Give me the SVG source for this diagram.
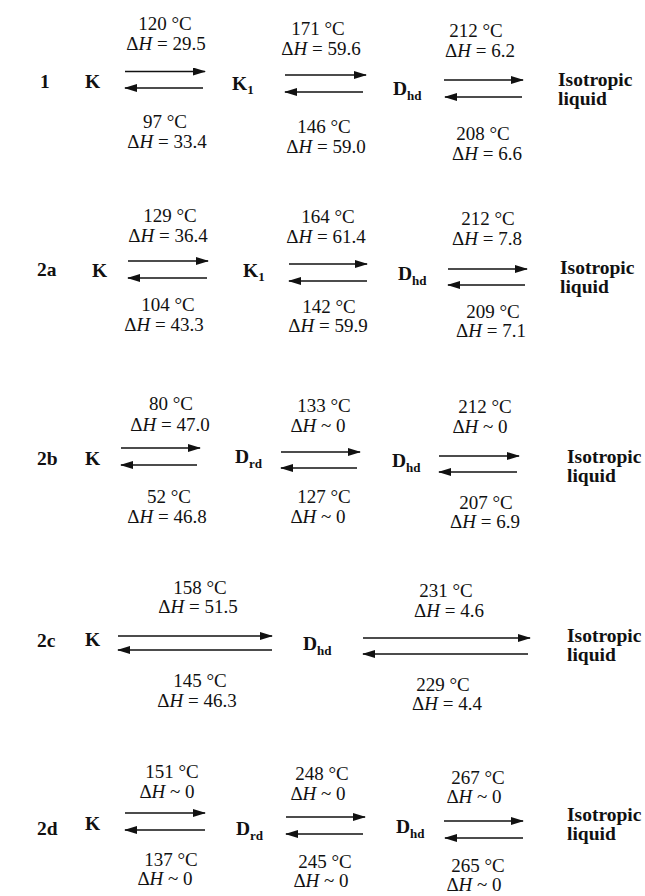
<svg xmlns="http://www.w3.org/2000/svg" width="645" height="896" viewBox="0 0 645 896">
<style>
.n{font-family:"Liberation Serif","Times New Roman",serif;font-weight:bold;font-size:19.5px;fill:#111}
.s{font-size:13px}
.l{font-family:"Liberation Serif","Times New Roman",serif;font-size:19px;fill:#111;text-anchor:middle}
.i{font-style:italic}
.a{stroke:#111;stroke-width:1.6;fill:none;marker-end:url(#ah)}
</style>
<defs>
<marker id="ah" markerUnits="userSpaceOnUse" markerWidth="13" markerHeight="8" refX="12" refY="4" orient="auto">
<path d="M0,0 L13,4 L0,8 Z" fill="#111"/>
</marker>
</defs>
<rect width="645" height="896" fill="#fff"/>

<!-- Row 1 -->
<g id="row1-label"><text class="n" x="40" y="88">1</text></g>
<g id="row1-K"><text class="n" x="85" y="88">K</text></g>
<g id="row1-K1"><text class="n" x="232" y="90">K<tspan class="s" dy="4">1</tspan></text></g>
<g id="row1-Dhd"><text class="n" x="393" y="95">D<tspan class="s" dy="5">hd</tspan></text></g>
<g id="row1-Iso"><text class="n" x="558" y="86">Isotropic</text><text class="n" x="558" y="105">liquid</text></g>

<!-- Row 2a -->
<g id="row2a-label"><text class="n" x="37" y="276">2a</text></g>
<g id="row2a-K"><text class="n" x="92" y="277">K</text></g>
<g id="row2a-K1"><text class="n" x="243" y="277">K<tspan class="s" dy="4">1</tspan></text></g>
<g id="row2a-Dhd"><text class="n" x="398" y="280">D<tspan class="s" dy="5">hd</tspan></text></g>
<g id="row2a-Iso"><text class="n" x="560" y="274">Isotropic</text><text class="n" x="560" y="293">liquid</text></g>

<!-- Row 2b -->
<g id="row2b-label"><text class="n" x="37" y="465">2b</text></g>
<g id="row2b-K"><text class="n" x="85" y="465">K</text></g>
<g id="row2b-Drd"><text class="n" x="235" y="463">D<tspan class="s" dy="5">rd</tspan></text></g>
<g id="row2b-Dhd"><text class="n" x="392" y="467">D<tspan class="s" dy="5">hd</tspan></text></g>
<g id="row2b-Iso"><text class="n" x="567" y="463">Isotropic</text><text class="n" x="567" y="482">liquid</text></g>

<!-- Row 2c -->
<g id="row2c-label"><text class="n" x="37" y="647">2c</text></g>
<g id="row2c-K"><text class="n" x="85" y="646">K</text></g>
<g id="row2c-Dhd"><text class="n" x="303" y="650">D<tspan class="s" dy="5">hd</tspan></text></g>
<g id="row2c-Iso"><text class="n" x="567" y="642">Isotropic</text><text class="n" x="567" y="661">liquid</text></g>

<!-- Row 2d -->
<g id="row2d-label"><text class="n" x="37" y="835">2d</text></g>
<g id="row2d-K"><text class="n" x="85" y="830">K</text></g>
<g id="row2d-Drd"><text class="n" x="236" y="835">D<tspan class="s" dy="5">rd</tspan></text></g>
<g id="row2d-Dhd"><text class="n" x="396" y="833">D<tspan class="s" dy="5">hd</tspan></text></g>
<g id="row2d-Iso"><text class="n" x="567" y="821">Isotropic</text><text class="n" x="567" y="840">liquid</text></g>

<g id="connectors">
<!-- row 1 -->
<line class="a" x1="125" y1="71.5" x2="205" y2="71.5"/>
<line class="a" x1="203" y1="88" x2="125" y2="88"/>
<line class="a" x1="285" y1="75" x2="366" y2="75"/>
<line class="a" x1="363" y1="92" x2="285" y2="92"/>
<line class="a" x1="444" y1="80" x2="523" y2="80"/>
<line class="a" x1="522" y1="97" x2="445" y2="97"/>
<!-- row 2a -->
<line class="a" x1="128" y1="261" x2="208" y2="261"/>
<line class="a" x1="207" y1="278" x2="128" y2="278"/>
<line class="a" x1="289" y1="264" x2="367" y2="264"/>
<line class="a" x1="367" y1="281" x2="289" y2="281"/>
<line class="a" x1="448" y1="269" x2="527" y2="269"/>
<line class="a" x1="525" y1="285" x2="448" y2="285"/>
<!-- row 2b -->
<line class="a" x1="121" y1="448" x2="200" y2="448"/>
<line class="a" x1="197" y1="465" x2="121" y2="465"/>
<line class="a" x1="281" y1="452" x2="360" y2="452"/>
<line class="a" x1="357" y1="468" x2="281" y2="468"/>
<line class="a" x1="439" y1="456" x2="519" y2="456"/>
<line class="a" x1="517" y1="472" x2="439" y2="472"/>
<!-- row 2c -->
<line class="a" x1="118" y1="636" x2="272" y2="636"/>
<line class="a" x1="272" y1="650" x2="118" y2="650"/>
<line class="a" x1="363" y1="638" x2="530" y2="638"/>
<line class="a" x1="528" y1="654" x2="363" y2="654"/>
<!-- row 2d -->
<line class="a" x1="125" y1="813" x2="205" y2="813"/>
<line class="a" x1="205" y1="830" x2="125" y2="830"/>
<line class="a" x1="286" y1="817" x2="365" y2="817"/>
<line class="a" x1="363" y1="834" x2="286" y2="834"/>
<line class="a" x1="444" y1="821" x2="523" y2="821"/>
<line class="a" x1="523" y1="838" x2="445" y2="838"/>
</g>

<g id="connector-labels">
<!-- row 1 -->
<text class="l" x="165" y="30">120 °C</text>
<text class="l" x="166" y="50">Δ<tspan class="i">H</tspan> = 29.5</text>
<text class="l" x="165" y="128">97 °C</text>
<text class="l" x="167" y="148">Δ<tspan class="i">H</tspan> = 33.4</text>
<text class="l" x="318" y="35">171 °C</text>
<text class="l" x="321" y="55">Δ<tspan class="i">H</tspan> = 59.6</text>
<text class="l" x="324" y="133">146 °C</text>
<text class="l" x="326" y="153">Δ<tspan class="i">H</tspan> = 59.0</text>
<text class="l" x="476" y="37">212 °C</text>
<text class="l" x="480" y="57">Δ<tspan class="i">H</tspan> = 6.2</text>
<text class="l" x="483" y="140">208 °C</text>
<text class="l" x="487" y="160">Δ<tspan class="i">H</tspan> = 6.6</text>
<!-- row 2a -->
<text class="l" x="170" y="222">129 °C</text>
<text class="l" x="168" y="242">Δ<tspan class="i">H</tspan> = 36.4</text>
<text class="l" x="168" y="311">104 °C</text>
<text class="l" x="164" y="331">Δ<tspan class="i">H</tspan> = 43.3</text>
<text class="l" x="328" y="223">164 °C</text>
<text class="l" x="326" y="243">Δ<tspan class="i">H</tspan> = 61.4</text>
<text class="l" x="329" y="313">142 °C</text>
<text class="l" x="328" y="332">Δ<tspan class="i">H</tspan> = 59.9</text>
<text class="l" x="488" y="225">212 °C</text>
<text class="l" x="487" y="245">Δ<tspan class="i">H</tspan> = 7.8</text>
<text class="l" x="493" y="318">209 °C</text>
<text class="l" x="491" y="337">Δ<tspan class="i">H</tspan> = 7.1</text>
<!-- row 2b -->
<text class="l" x="171" y="410">80 °C</text>
<text class="l" x="170" y="431">Δ<tspan class="i">H</tspan> = 47.0</text>
<text class="l" x="169" y="503">52 °C</text>
<text class="l" x="167" y="523">Δ<tspan class="i">H</tspan> = 46.8</text>
<text class="l" x="324" y="412">133 °C</text>
<text class="l" x="318" y="432">Δ<tspan class="i">H</tspan> ~ 0</text>
<text class="l" x="324" y="503">127 °C</text>
<text class="l" x="318" y="523">Δ<tspan class="i">H</tspan> ~ 0</text>
<text class="l" x="485" y="413">212 °C</text>
<text class="l" x="480" y="433">Δ<tspan class="i">H</tspan> ~ 0</text>
<text class="l" x="486" y="509">207 °C</text>
<text class="l" x="485" y="528">Δ<tspan class="i">H</tspan> = 6.9</text>
<!-- row 2c -->
<text class="l" x="200" y="594">158 °C</text>
<text class="l" x="198" y="613">Δ<tspan class="i">H</tspan> = 51.5</text>
<text class="l" x="200" y="687">145 °C</text>
<text class="l" x="197" y="707">Δ<tspan class="i">H</tspan> = 46.3</text>
<text class="l" x="446" y="597">231 °C</text>
<text class="l" x="449" y="617">Δ<tspan class="i">H</tspan> = 4.6</text>
<text class="l" x="443" y="691">229 °C</text>
<text class="l" x="447" y="710">Δ<tspan class="i">H</tspan> = 4.4</text>
<!-- row 2d -->
<text class="l" x="172" y="778">151 °C</text>
<text class="l" x="167" y="798">Δ<tspan class="i">H</tspan> ~ 0</text>
<text class="l" x="171" y="866">137 °C</text>
<text class="l" x="165" y="885">Δ<tspan class="i">H</tspan> ~ 0</text>
<text class="l" x="322" y="780">248 °C</text>
<text class="l" x="318" y="800">Δ<tspan class="i">H</tspan> ~ 0</text>
<text class="l" x="325" y="868">245 °C</text>
<text class="l" x="321" y="887">Δ<tspan class="i">H</tspan> ~ 0</text>
<text class="l" x="478" y="872">265 °C</text>
<text class="l" x="474" y="891">Δ<tspan class="i">H</tspan> ~ 0</text>
<text class="l" x="478" y="784">267 °C</text>
<text class="l" x="474" y="803">Δ<tspan class="i">H</tspan> ~ 0</text>
</g>
</svg>
